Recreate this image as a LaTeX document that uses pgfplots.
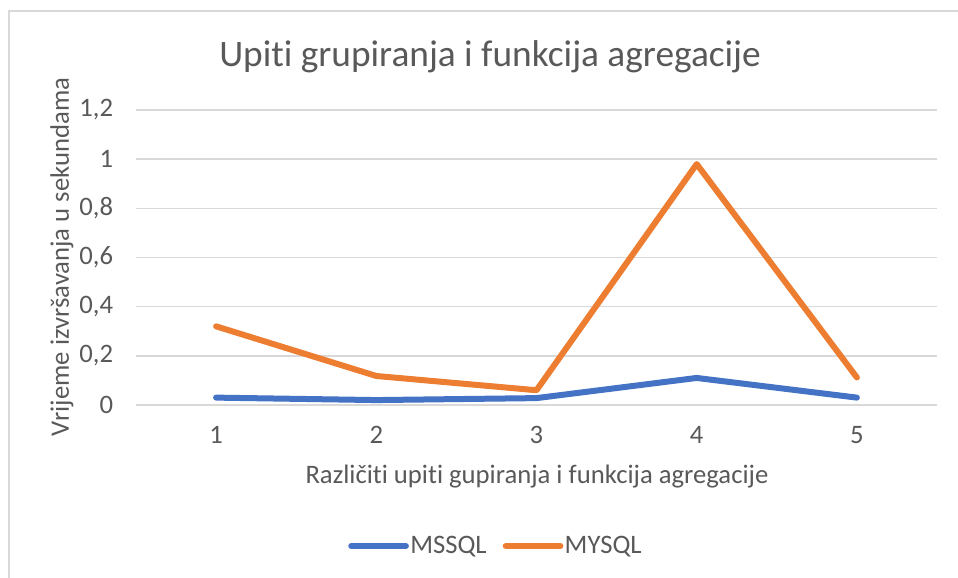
\documentclass[border=0pt]{standalone}
\usepackage{pgfplots}
\pgfplotsset{compat=1.18}
\usepackage{fontspec}
\setmainfont{Carlito}[Ligatures=CommonOff]
\definecolor{msblue}{HTML}{4472C4}
\definecolor{myorange}{HTML}{ED7D31}
\definecolor{txtgray}{HTML}{595959}
\definecolor{gridgray}{HTML}{D9D9D9}
\begin{document}
\begin{tikzpicture}
\useasboundingbox (0pt,0pt) rectangle (718.5pt,433.5pt);
\draw[gridgray, line width=1.5pt] (6.75pt,0pt) -- (6.75pt,425.25pt) -- (718.5pt,425.25pt);
\begin{axis}[
  at={(102pt,129.75pt)}, anchor=south west,
  scale only axis, width=600.75pt, height=221.25pt,
  xmin=0.5, xmax=5.5, ymin=0, ymax=1.2,
  xtick={1,2,3,4,5}, ytick={0,0.2,0.4,0.6,0.8,1,1.2},
  yticklabels={0,{0,2},{0,4},{0,6},{0,8},1,{1,2}},
  /pgf/number format/assume math mode=true,
  axis line style={draw=none},
  axis x line*=bottom, axis y line*=left,
  major tick length=0pt,
  ymajorgrids, grid style={gridgray, line width=1.2pt},
  tick label style={font=\fontsize{20}{24}\selectfont, text=txtgray},
  xticklabel style={anchor=base, yshift=-29pt},
  yticklabel style={anchor=east, inner sep=0pt, xshift=-17pt},
  legend style={draw=none, fill=none, at={(0.449,-0.478)}, anchor=center,
    legend columns=2, font=\fontsize{20}{24}\selectfont, text=txtgray,
    /tikz/every even column/.append style={column sep=11pt},
    nodes={inner sep=1pt}},
  legend image code/.code={\draw[#1] (0pt,0pt) -- (41pt,0pt);},
  clip=false,
]
\draw[gridgray, line width=1.2pt] (axis cs:0.5,0) -- (axis cs:5.5,0);
\addplot[msblue, line width=4.5pt, line cap=round, line join=round] coordinates {
(1,0.03) (2,0.02) (3,0.028) (4,0.11) (5,0.03)};
\addlegendentry{MSSQL}
\addplot[myorange, line width=4.5pt, line cap=round, line join=round] coordinates {
(1,0.32) (2,0.118) (3,0.06) (4,0.98) (5,0.112)};
\addlegendentry{MYSQL}
\node[text=txtgray, font=\fontsize{28}{32}\selectfont] at (axis description cs:0.442,1.18) {Upiti grupiranja i funkcija agregacije};
\node[text=txtgray, font=\fontsize{20}{24}\selectfont] at (axis description cs:0.5006,-0.241) {Različiti upiti gupiranja i funkcija agregacije};
\node[text=txtgray, font=\fontsize{20}{24}\selectfont, rotate=90] at (axis description cs:-0.0924,0.5017) {Vrijeme izvršavanja u sekundama};
\end{axis}
\end{tikzpicture}
\end{document}
